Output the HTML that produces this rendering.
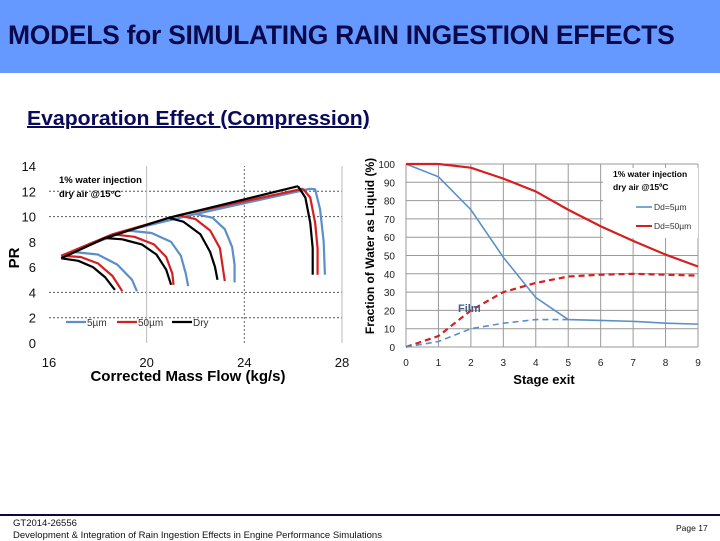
<!DOCTYPE html>
<html><head><meta charset="utf-8"><style>
body{margin:0;width:720px;height:540px;overflow:hidden;background:#fff;font-family:"Liberation Sans",sans-serif;position:relative}
#hdr{position:absolute;left:0;top:0;width:720px;height:73px;background:#6699ff}
#ttl{position:absolute;left:8px;top:20px;font-size:26.5px;font-weight:bold;color:#0a0a4a;letter-spacing:-0.3px;white-space:nowrap}
#sub{position:absolute;left:27px;top:108px;font-size:20px;font-weight:bold;color:#0a0a5a;text-decoration:underline;transform:scaleX(1.06);transform-origin:left;white-space:nowrap}
#fl{position:absolute;left:0;top:514px;width:720px;height:2px;background:#0a0a3a}
.ft{position:absolute;font-size:9.5px;color:#111}
svg{position:absolute;left:0;top:0}
</style></head><body>
<div id="hdr"></div>
<div id="ttl">MODELS for SIMULATING RAIN INGESTION EFFECTS</div>
<div id="sub">Evaporation Effect (Compression)</div>
<div id="fl"></div>
<div class="ft" style="left:13px;top:518px">GT2014-26556</div>
<div class="ft" style="left:13px;top:530px">Development &amp; Integration of Rain Ingestion Effects in Engine Performance Simulations</div>
<div class="ft" style="left:676px;top:523px;font-size:8.5px">Page 17</div>
<svg id="chart" width="720" height="540"></svg>
<script>
// Left chart data
const leftXTicks=[16,20,24,28];
const leftYTicks=[0,2,4,6,8,10,12,14];
const seriesNames=["5µm","50µm","Dry"];
const seriesColors=["#5b8fc8","#d42020","#000000"];
const blueSpeed=[
 [[16.5,6.9],[17,7.2],[18,7.0],[18.8,6.2],[19.4,5.0],[19.6,4.1]],
 [[19.2,8.9],[20.2,8.7],[21,8.0],[21.4,6.9],[21.6,5.5],[21.7,4.5]],
 [[22,10.2],[22.7,9.9],[23.2,9.0],[23.5,7.6],[23.6,6.2],[23.6,4.8]],
 [[26.7,12.2],[26.9,12.15],[27.1,10.6],[27.25,8],[27.3,5.4]]];
const redSpeed=[
 [[16.5,6.9],[17.3,6.8],[18,6.3],[18.6,5.3],[19,4.1]],
 [[18.6,8.6],[19.5,8.4],[20.3,7.8],[20.8,6.8],[21.05,5.5],[21.1,4.6]],
 [[21.3,10.1],[22.0,9.8],[22.6,8.9],[23,7.5],[23.1,6.2],[23.2,4.9]],
 [[26.4,12.2],[26.7,11.5],[26.9,9.5],[27,7.5],[27,5.4]]];
const drySpeed=[
 [[16.5,6.7],[17.2,6.5],[17.8,6.0],[18.3,5.2],[18.7,4.2]],
 [[18.3,8.3],[19,8.2],[19.8,7.8],[20.4,7.0],[20.8,5.8],[21,4.6]],
 [[20.9,9.9],[21.5,9.6],[22.2,8.6],[22.6,7.2],[22.8,6],[22.9,5.0]],
 [[26.2,12.4],[26.5,11.5],[26.7,9.5],[26.8,7.5],[26.8,5.4]]];
// Right chart data
const stages=[0,1,2,3,4,5,6,7,8,9];
const rightYTicks=[0,10,20,30,40,50,60,70,80,90,100];
const blueLiquid=[100,93,75,49,27,15,14.5,14,13,12.5];
const redLiquid=[100,100,98,92,85,75,66,58,50.5,44];
const redFilm=[0,6,20,30,35,38.5,39.5,40,39.5,39];
const blueFilm=[0,3,10,13,15,15];

const NS="http://www.w3.org/2000/svg";
const svg=document.getElementById('chart');
function mk(tag,attrs,parent){const e=document.createElementNS(NS,tag);for(const k in attrs)e.setAttribute(k,attrs[k]);(parent||svg).appendChild(e);return e;}
function txt(s,attrs,parent){const e=mk('text',attrs,parent);e.textContent=s;return e;}

// ---- left chart
const LX=x=>49+(x-16)/12*293, LY=y=>343-y/14*177;
const gL=mk('g',{});


[2,4,10,12].forEach(v=>{const l=mk('line',{x1:LX(16),x2:LX(28),y1:LY(v),y2:LY(v),stroke:'#555','stroke-dasharray':'2,2','stroke-width':1},gL);
 });
mk('line',{x1:LX(20),x2:LX(20),y1:LY(0),y2:LY(14),stroke:'#bbb','stroke-width':1},gL);
mk('line',{x1:LX(24),x2:LX(24),y1:LY(0),y2:LY(14),stroke:'#666','stroke-dasharray':'2,2'},gL);
mk('line',{x1:LX(28),x2:LX(28),y1:LY(0),y2:LY(14),stroke:'#bbb'},gL);
leftYTicks.forEach(v=>{const t=txt(v,{x:36,y:LY(v)+5,'font-size':13,'text-anchor':'end',fill:'#111'},gL);
 });
leftXTicks.forEach(v=>{const t=txt(v,{x:LX(v),y:367,'font-size':13,'text-anchor':'middle',fill:'#111'},gL);
 });
const pt=txt('PR',{x:0,y:0,'font-size':15,'font-weight':'bold',transform:'translate(19,258) rotate(-90)','text-anchor':'middle'},gL);

const xt=txt('Corrected Mass Flow (kg/s)',{x:188,y:381,'font-size':15,'font-weight':'bold','text-anchor':'middle'},gL);

const a1=txt('1% water injection',{x:59,y:183,'font-size':9.5,'font-weight':'bold'},gL);

const a2=txt('dry air @15°C',{x:59,y:197,'font-size':9.5,'font-weight':'bold'},gL);

[blueSpeed,redSpeed,drySpeed].forEach((set,si)=>{
 const surge=set.map(c=>c[0]);
 const s=mk('polyline',{points:surge.map(p=>LX(p[0])+','+LY(p[1])).join(' '),fill:'none',stroke:seriesColors[si],'stroke-width':2.2},gL);
 
 set.forEach((c,i)=>{const p=mk('polyline',{points:c.map(p=>LX(p[0])+','+LY(p[1])).join(' '),fill:'none',stroke:seriesColors[si],'stroke-width':2.2,'stroke-linejoin':'round'},gL);
  });
});
const legX=[66,117,172];
seriesNames.forEach((n,i)=>{mk('line',{x1:legX[i],x2:legX[i]+20,y1:322,y2:322,stroke:seriesColors[i],'stroke-width':2.2},gL);
 const t=txt(n,{x:legX[i]+21,y:326,'font-size':10,fill:'#333'},gL);
 });

// ---- right chart
const RX=x=>406+x/9*292, RY=y=>347-y/100*183;
const gR=mk('g',{});


rightYTicks.forEach(v=>{mk('line',{x1:RX(0),x2:RX(9),y1:RY(v),y2:RY(v),stroke:'#999','stroke-width':1},gR);
 const t=txt(v,{x:395,y:RY(v)+4,'font-size':10,'text-anchor':'end',fill:'#222'},gR);
 });
stages.forEach(v=>{mk('line',{x1:RX(v),x2:RX(v),y1:RY(0),y2:RY(100),stroke:'#999','stroke-width':1},gR);
 const t=txt(v,{x:RX(v),y:366,'font-size':10,'text-anchor':'middle',fill:'#222'},gR);
 });
mk('rect',{x:603,y:168,width:95,height:70,fill:'#fff'},gR);
function line(vals,color,dash,name){const p=mk('polyline',{points:vals.map((v,i)=>RX(stages[i])+','+RY(v)).join(' '),fill:'none',stroke:color,'stroke-width':color==='#d42020'?2.2:1.6,'stroke-dasharray':dash||'none'},gR);
 }
line(blueLiquid,'#5b8fc8',null,'liquid-5um-line');
line(redLiquid,'#d42020',null,'liquid-50um-line');
line(redFilm,'#d42020','6,4','film-50um-line');
line(blueFilm,'#5b8fc8','6,4','film-5um-line');
const yt=txt('Fraction of Water as Liquid (%)',{x:0,y:0,'font-size':12,'font-weight':'bold','text-anchor':'middle',transform:'translate(374,246) rotate(-90)'},gR);

const st=txt('Stage exit',{x:544,y:384,'font-size':13,'font-weight':'bold','text-anchor':'middle'},gR);

const fm=txt('Film',{x:458,y:312,'font-size':11,'font-weight':'bold',fill:'#3d5f8f'},gR);

const b1=txt('1% water injection',{x:613,y:177,'font-size':8.5,'font-weight':'bold'},gR);

const b2=txt('dry air @15ºC',{x:613,y:190,'font-size':8.5,'font-weight':'bold'},gR);

mk('line',{x1:636,x2:652,y1:207,y2:207,stroke:'#5b8fc8','stroke-width':1.6},gR);
const l1=txt('Dd=5µm',{x:654,y:210,'font-size':8.5,fill:'#333'},gR);

mk('line',{x1:636,x2:652,y1:226,y2:226,stroke:'#d42020','stroke-width':2},gR);
const l2=txt('Dd=50µm',{x:654,y:229,'font-size':8.5,fill:'#333'},gR);

</script>
</body></html>
